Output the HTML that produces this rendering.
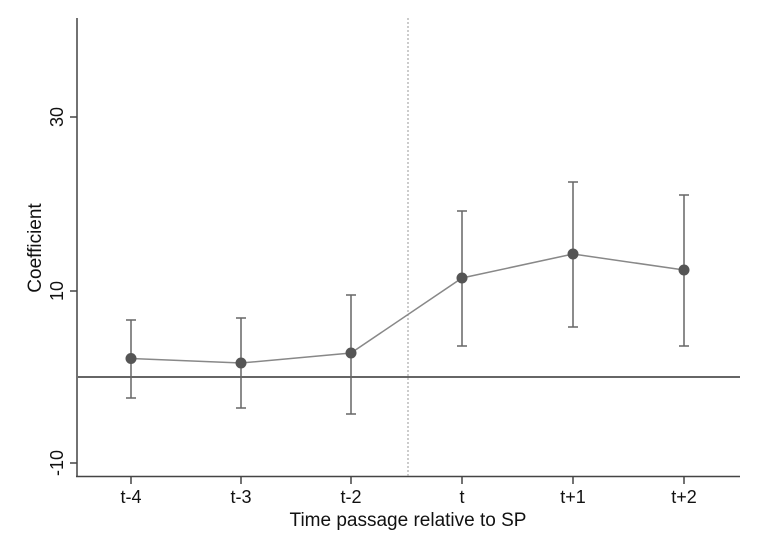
<!DOCTYPE html>
<html><head><style>body{margin:0;background:#fff}svg{display:block}</style></head><body>
<svg width="774" height="549" xmlns="http://www.w3.org/2000/svg" font-family="Liberation Sans, sans-serif">
<rect width="774" height="549" fill="#fff"/>
<line x1="77" y1="18" x2="77" y2="477" stroke="#444" stroke-width="1.5"/>
<line x1="76" y1="476.5" x2="740" y2="476.5" stroke="#444" stroke-width="1.5"/>
<g stroke="#444" stroke-width="1.5">
<line x1="70" y1="117" x2="77" y2="117"/><line x1="70" y1="291" x2="77" y2="291"/><line x1="70" y1="463" x2="77" y2="463"/>
<line x1="131" y1="477" x2="131" y2="484"/><line x1="241" y1="477" x2="241" y2="484"/><line x1="351" y1="477" x2="351" y2="484"/>
<line x1="462" y1="477" x2="462" y2="484"/><line x1="573" y1="477" x2="573" y2="484"/><line x1="684" y1="477" x2="684" y2="484"/>
</g>
<g font-size="18" fill="#111" text-anchor="middle">
<text transform="translate(63,117) rotate(-90)">30</text>
<text transform="translate(63,291) rotate(-90)">10</text>
<text transform="translate(63,463) rotate(-90)">-10</text>
<text transform="translate(41,248) rotate(-90)" font-size="19">Coefficient</text>
<text x="131" y="503">t-4</text><text x="241" y="503">t-3</text><text x="351" y="503">t-2</text>
<text x="462" y="503">t</text><text x="573" y="503">t+1</text><text x="684" y="503">t+2</text>
<text x="408" y="526" font-size="19">Time passage relative to SP</text>
</g>
<line x1="78" y1="377" x2="740" y2="377" stroke="#333" stroke-width="1.5"/>
<line x1="408" y1="18" x2="408" y2="476" stroke="#999" stroke-width="1" stroke-dasharray="2,2"/>
<g stroke="#666" stroke-width="1.5">
<line x1="131" y1="320" x2="131" y2="398"/><line x1="126" y1="320" x2="136" y2="320"/><line x1="126" y1="398" x2="136" y2="398"/>
<line x1="241" y1="318" x2="241" y2="408"/><line x1="236" y1="318" x2="246" y2="318"/><line x1="236" y1="408" x2="246" y2="408"/>
<line x1="351" y1="295" x2="351" y2="414"/><line x1="346" y1="295" x2="356" y2="295"/><line x1="346" y1="414" x2="356" y2="414"/>
<line x1="462" y1="211" x2="462" y2="346"/><line x1="457" y1="211" x2="467" y2="211"/><line x1="457" y1="346" x2="467" y2="346"/>
<line x1="573" y1="182" x2="573" y2="327"/><line x1="568" y1="182" x2="578" y2="182"/><line x1="568" y1="327" x2="578" y2="327"/>
<line x1="684" y1="195" x2="684" y2="346"/><line x1="679" y1="195" x2="689" y2="195"/><line x1="679" y1="346" x2="689" y2="346"/>
</g>
<polyline points="131,358.5 241,363 351,353 462,278 573,254 684,270" fill="none" stroke="#888" stroke-width="1.5"/>
<g fill="#555">
<circle cx="131" cy="358.5" r="5.5"/><circle cx="241" cy="363" r="5.5"/><circle cx="351" cy="353" r="5.5"/>
<circle cx="462" cy="278" r="5.5"/><circle cx="573" cy="254" r="5.5"/><circle cx="684" cy="270" r="5.5"/>
</g>
</svg>
</body></html>
